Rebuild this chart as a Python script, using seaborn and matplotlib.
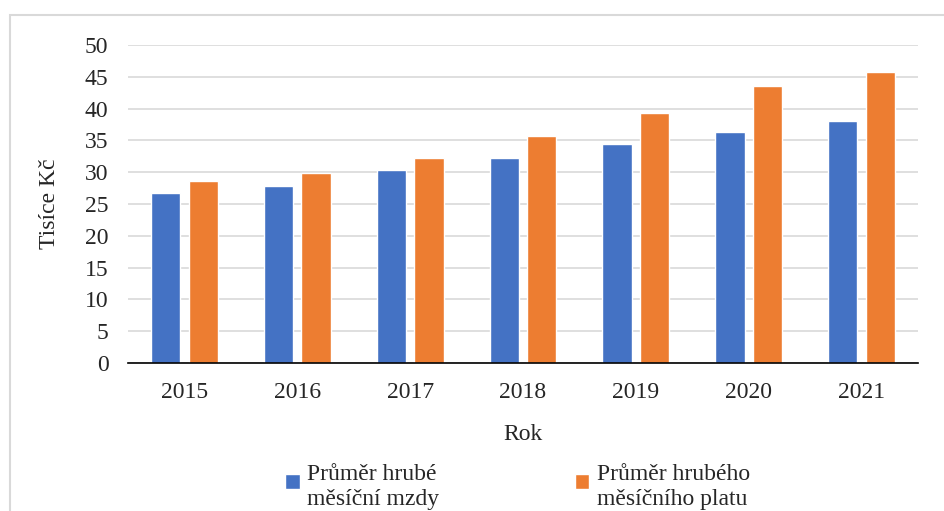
import pandas as pd
import matplotlib.pyplot as plt
import seaborn as sns
from matplotlib.patches import Rectangle
from matplotlib.legend_handler import HandlerPatch

# hodnoty (tisíce Kč)
roky = ['2015', '2016', '2017', '2018', '2019', '2020', '2021']
mzda = [26.7, 27.8, 30.3, 32.3, 34.4, 36.3, 38.0]
plat = [28.6, 29.9, 32.2, 35.7, 39.3, 43.6, 45.8]
serie = ['Průměr hrubé\nměsíční mzdy', 'Průměr hrubého\nměsíčního platu']
barvy = ['#4472C4', '#ED7D31']

df = pd.DataFrame({
    'Rok': roky * 2,
    'Hodnota': mzda + plat,
    'Serie': [serie[0]] * len(roky) + [serie[1]] * len(roky),
})

sns.set_style('white')
plt.rcParams['font.family'] = ['Liberation Serif', 'DejaVu Serif']

fig = plt.figure(figsize=(9.45, 5.11), dpi=100)
ax = fig.add_axes([128 / 945, 1 - 363 / 511, (918 - 128) / 945, (363 - 45) / 511])

sns.barplot(data=df, x='Rok', y='Hodnota', hue='Serie', palette=barvy,
            width=0.665, gap=0.22, ax=ax, saturation=1)

ax.set_ylim(0, 50)
ax.set_xlim(-0.5, len(roky) - 0.5)
ax.set_yticks(range(0, 51, 5))
ax.yaxis.grid(True, color='#d9d9d9', lw=1.2)
ax.set_axisbelow(True)
for s in ['left', 'right', 'top']:
    ax.spines[s].set_visible(False)
ax.spines['bottom'].set_color('black')
ax.spines['bottom'].set_linewidth(1.2)

ax.tick_params(axis='y', length=0, pad=14, labelsize=17)
ax.tick_params(axis='x', which='major', length=0, pad=14, labelsize=17)
ax.set_xticks([i - 0.5 for i in range(len(roky) + 1)], minor=True)
ax.tick_params(axis='x', which='minor', length=5, width=1.2, color='black', direction='out')

ax.set_xlabel('Rok', fontsize=17, labelpad=15)
ax.set_ylabel('Tisíce Kč', fontsize=17, labelpad=18)


# čtvereček legendy zarovnaný k prvnímu řádku textu
def ctverec(legend, orig_handle, xdescent, ydescent, width, height, fontsize):
    s = 0.62 * fontsize
    return Rectangle((-xdescent, -ydescent + height - s - 0.25 * fontsize), s, s)


handles, labels = ax.get_legend_handles_labels()
leg = ax.legend(handles, labels, loc='upper center', bbox_to_anchor=(0.493, -0.252), ncol=2,
                frameon=False, fontsize=17, handlelength=0.62, handleheight=2.2,
                handletextpad=0.3, columnspacing=5.75,
                handler_map={h: HandlerPatch(patch_func=ctverec) for h in handles})
for t in leg.get_texts():
    t.set_linespacing(1.25)

fig.patches.append(Rectangle((10 / 945, -0.1), 1.1, (511 - 15) / 511 + 0.1,
                             transform=fig.transFigure, fill=False,
                             edgecolor='#d9d9d9', lw=1.5))

fig.savefig('out.png', dpi=100)
